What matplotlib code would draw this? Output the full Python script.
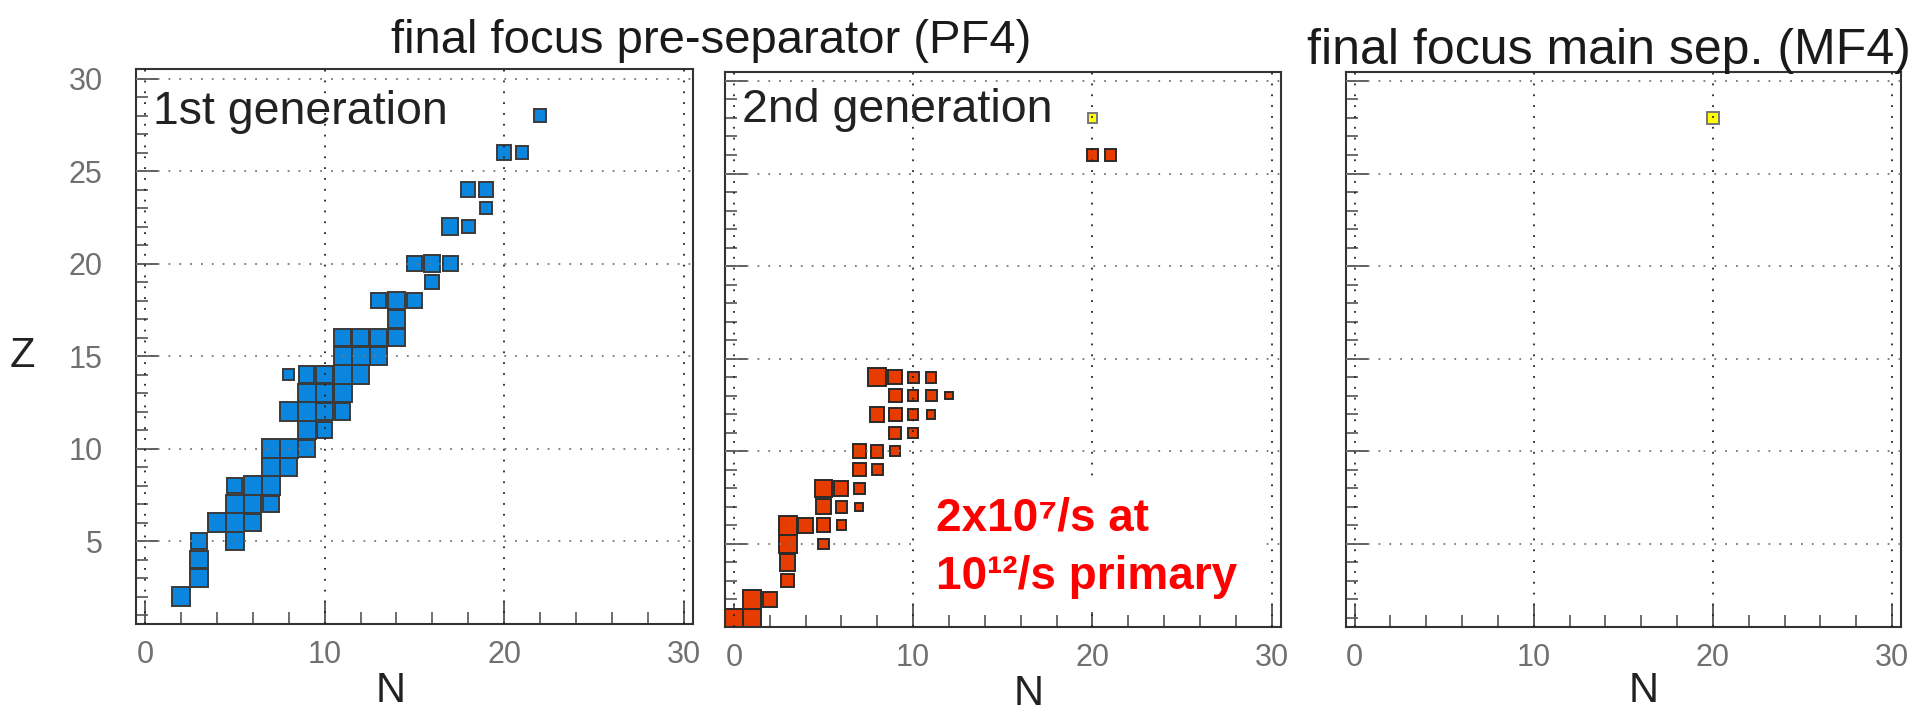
import matplotlib
matplotlib.use('Agg')
import matplotlib.pyplot as plt
from matplotlib.patches import Rectangle
from matplotlib.ticker import MultipleLocator

plt.rcParams['font.family'] = ['Liberation Sans', 'DejaVu Sans']

# 1st generation fragments at PF4: neutron number, proton number, relative rate
gen1_n = [2, 3, 3, 3, 5, 4, 5, 6, 5, 6, 7, 5, 6, 7, 7, 8, 7, 8, 9, 9, 10,
          8, 9, 10, 11, 9, 10, 11, 8, 9, 10, 11, 12, 11, 12, 13,
          11, 12, 13, 14, 14, 13, 14, 15, 16, 15, 16, 17, 17, 18, 19,
          18, 19, 20, 21, 22]
gen1_z = [2, 3, 4, 5, 5, 6, 6, 6, 7, 7, 7, 8, 8, 8, 9, 9, 10, 10, 10, 11, 11,
          12, 12, 12, 12, 13, 13, 13, 14, 14, 14, 14, 14, 15, 15, 15,
          16, 16, 16, 16, 17, 18, 18, 18, 19, 20, 20, 20, 22, 22, 23,
          24, 24, 26, 26, 28]
gen1_rate = [1.0, 0.97, 0.97, 0.89, 0.97, 0.98, 1.0, 0.97, 1.0, 0.97, 0.89,
             0.84, 1.0, 1.0, 1.0, 0.98, 1.0, 1.0, 0.95, 1.0, 0.85,
             1.0, 1.0, 0.93, 0.87, 1.0, 0.93, 1.0, 0.61, 0.87, 0.93, 1.0, 0.98,
             1.0, 1.0, 0.93, 0.9, 0.93, 0.9, 0.93, 0.93, 0.86, 0.97, 0.84,
             0.77, 0.84, 0.88, 0.84, 0.88, 0.73, 0.66, 0.8, 0.77, 0.77, 0.68,
             0.71]

# 2nd generation fragments at PF4
gen2_n = [0, 1, 1, 2, 3, 3, 3, 5, 3, 4, 5, 6, 5, 6, 7, 5, 6, 7, 7, 8,
          7, 8, 9, 9, 10, 8, 9, 10, 11, 9, 10, 11, 12, 8, 9, 10, 11, 20, 21]
gen2_z = [1, 1, 2, 2, 3, 4, 5, 5, 6, 6, 6, 6, 7, 7, 7, 8, 8, 8, 9, 9,
          10, 10, 10, 11, 11, 12, 12, 12, 12, 13, 13, 13, 13, 14, 14, 14, 14,
          26, 26]
gen2_rate = [1.0, 1.0, 1.0, 0.77, 0.7, 0.87, 1.0, 0.58, 1.0, 0.83, 0.75, 0.55,
             0.8, 0.62, 0.44, 0.95, 0.78, 0.6, 0.7, 0.6, 0.75, 0.67, 0.55,
             0.68, 0.55, 0.78, 0.7, 0.58, 0.46, 0.72, 0.58, 0.62, 0.4,
             1.0, 0.77, 0.6, 0.6, 0.62, 0.62]

# 56Ni at PF4 and after the main separator (MF4)
ni_n = [20]
ni_z = [28]
ni_rate_pf4 = [0.55]
ni_rate_mf4 = [0.67]

x_ticks = [0, 10, 20, 30]
y_ticks = [5, 10, 15, 20, 25, 30]

BLUE = '#0a86de'
RED = '#e63c00'
YELLOW = '#ffff00'


def draw_boxes(ax, n, z, rate, color, edge):
    # box side scales with the rate, one unit cell per nuclide
    for xi, yi, r in zip(n, z, rate):
        ax.add_patch(Rectangle((xi - r / 2, yi - r / 2), r, r, facecolor=color,
                               edgecolor=edge, linewidth=1.4, zorder=2))


def setup_axes(ax, show_ylabels):
    ax.set_xlim(-0.5, 30.5)
    ax.set_ylim(0.5, 30.5)
    ax.set_xticks(x_ticks)
    ax.set_yticks(y_ticks)
    ax.xaxis.set_minor_locator(MultipleLocator(2))
    ax.yaxis.set_minor_locator(MultipleLocator(1))
    ax.tick_params(which='major', direction='in', length=16, width=1.2,
                   color='#444444', labelsize=22, labelcolor='#707070')
    ax.tick_params(which='minor', direction='in', length=8.5, width=1.2,
                   color='#555555')
    ax.tick_params(axis='x', pad=11)
    ax.tick_params(axis='y', pad=24, labelleft=show_ylabels)
    for sp in ax.spines.values():
        sp.set_color('#333333')
        sp.set_linewidth(1.5)
    # dotted grid drawn over the boxes
    ax.vlines(x_ticks, 0.5, 30.5, colors='#222222', linewidth=1.3,
              linestyles=(0, (1, 5)), zorder=3)
    ax.hlines(y_ticks, -0.5, 30.5, colors='#777777', linewidth=1.3,
              linestyles=(0, (1, 5)), zorder=3)


fig = plt.figure(figsize=(19.27, 7.15), dpi=100)
ax1 = fig.add_axes([0.0706, 0.1269, 0.2889, 0.7762])
ax2 = fig.add_axes([0.3762, 0.1227, 0.2884, 0.7771])
ax3 = fig.add_axes([0.6983, 0.1227, 0.2882, 0.7771])

setup_axes(ax1, True)
setup_axes(ax2, False)
setup_axes(ax3, False)

draw_boxes(ax1, gen1_n, gen1_z, gen1_rate, BLUE, '#3a3a3a')
draw_boxes(ax2, gen2_n, gen2_z, gen2_rate, RED, '#2a2a2a')
draw_boxes(ax2, ni_n, ni_z, ni_rate_pf4, YELLOW, '#777777')
draw_boxes(ax3, ni_n, ni_z, ni_rate_mf4, YELLOW, '#777777')

ax1.text(0.45, 27.56, '1st generation', fontsize=33.5, color='#222222',
         va='baseline', ha='left', zorder=5)
ax2.text(0.44, 27.79, '2nd generation', fontsize=33.5, color='#222222',
         va='baseline', ha='left', zorder=5)

# rate annotation on a white patch
ax2.add_patch(Rectangle((10.1, 1.33), 19.6, 7.3, facecolor='white',
                        edgecolor='none', zorder=4))
ax2.text(11.3, 5.72, '2x10\u2077/s at', fontsize=33, fontweight='bold',
         color='#ff0000', va='baseline', ha='left', zorder=5)
ax2.text(11.3, 2.58, '10\u00b9\u00b2/s primary', fontsize=33, fontweight='bold',
         color='#ff0000', va='baseline', ha='left', zorder=5)

fig.text(0.3692, 0.926, 'final focus pre-separator (PF4)', fontsize=34,
         color='#1a1a1a', ha='center', va='baseline')
fig.text(0.8352, 0.9105, 'final focus main sep. (MF4)', fontsize=36,
         color='#1a1a1a', ha='center', va='baseline')

fig.text(0.0114, 0.502, 'Z', fontsize=30, color='#222222', ha='center', va='center')
fig.text(391 / 1927, 0.006, 'N', fontsize=30, color='#222222', ha='center', va='bottom')
fig.text(1029 / 1927, 0.002, 'N', fontsize=30, color='#222222', ha='center', va='bottom')
fig.text(1644 / 1927, 0.006, 'N', fontsize=30, color='#222222', ha='center', va='bottom')

fig.savefig('out.png', dpi=100, facecolor='white')
